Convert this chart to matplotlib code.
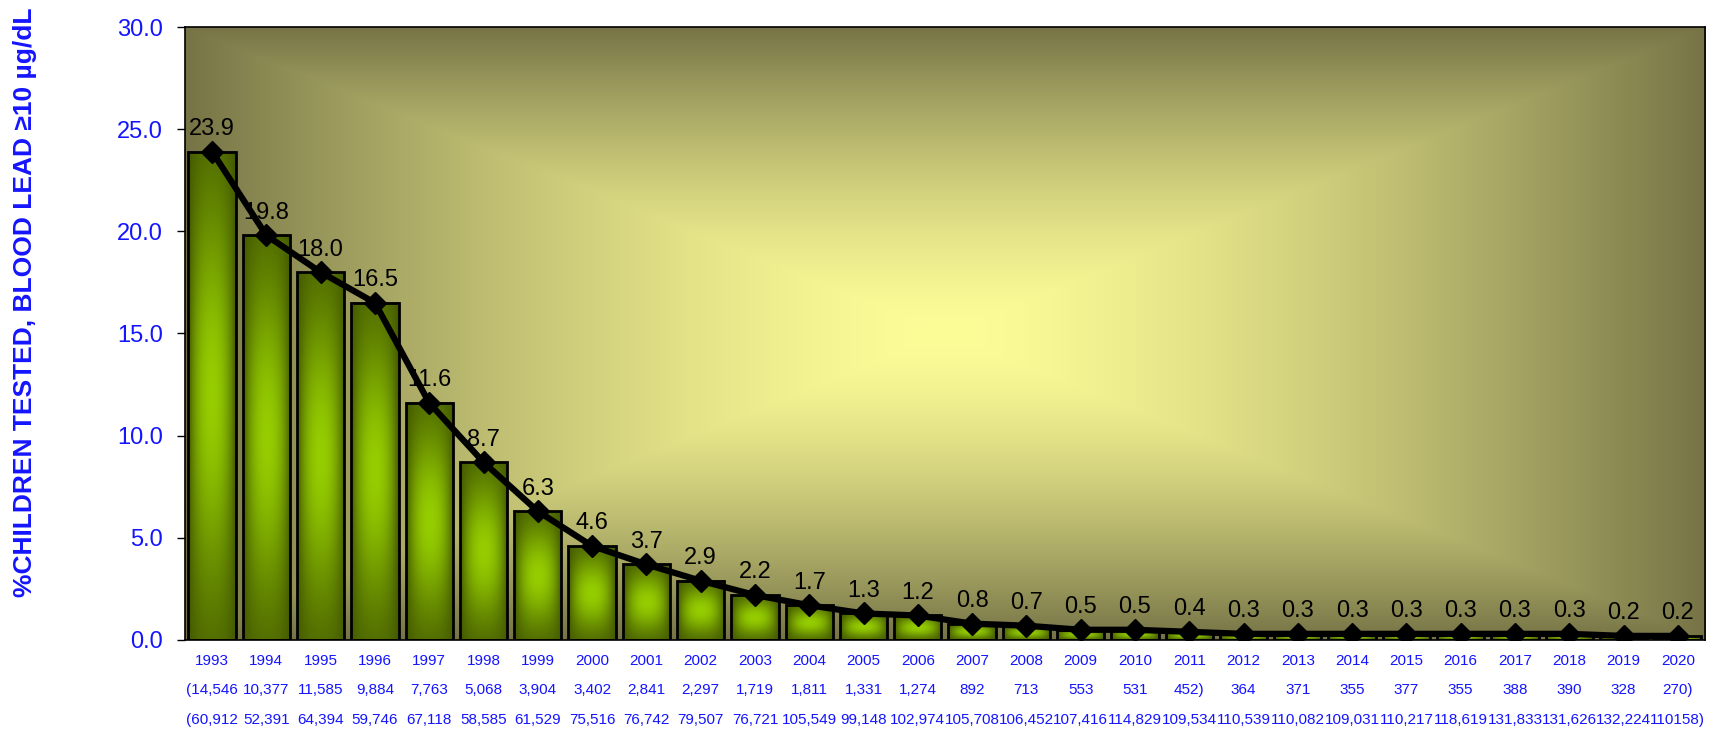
import numpy as np
import matplotlib
matplotlib.use("Agg")
import matplotlib.pyplot as plt
from matplotlib.colors import to_rgb

plt.rcParams['font.family'] = ['Liberation Sans', 'DejaVu Sans']

# data
years = [str(y) for y in range(1993, 2021)]
pct_elevated = [23.9, 19.8, 18.0, 16.5, 11.6, 8.7, 6.3, 4.6, 3.7, 2.9, 2.2, 1.7, 1.3, 1.2,
                0.8, 0.7, 0.5, 0.5, 0.4, 0.3, 0.3, 0.3, 0.3, 0.3, 0.3, 0.3, 0.2, 0.2]
n_elevated = ["(14,546", "10,377", "11,585", "9,884", "7,763", "5,068", "3,904", "3,402",
              "2,841", "2,297", "1,719", "1,811", "1,331", "1,274", "892", "713", "553",
              "531", "452)", "364", "371", "355", "377", "355", "388", "390", "328", "270)"]
n_tested = ["(60,912", "52,391", "64,394", "59,746", "67,118", "58,585", "61,529", "75,516",
            "76,742", "79,507", "76,721", "105,549", "99,148", "102,974", "105,708", "106,452",
            "107,416", "114,829", "109,534", "110,539", "110,082", "109,031", "110,217",
            "118,619", "131,833", "131,626", "132,224", "110158)"]

blue = '#1414ff'

fig = plt.figure(figsize=(17.22, 7.32), dpi=100)
ax = fig.add_axes([0.1074, 0.1257, 0.8827, 0.8374])

x = np.arange(len(years))
ax.set_xlim(-0.5, len(years) - 0.5)
ax.set_ylim(0, 30)

# background: rectangular gradient, light yellow centre -> olive edges
gx, gy = np.meshgrid(np.linspace(-1, 1, 600), np.linspace(-1, 1, 300))
t = np.clip(np.maximum(np.abs(gx), np.abs(gy)), 0, 1) ** 1.5
c_in, c_out = np.array(to_rgb('#fdfd98')), np.array(to_rgb('#767446'))
bg = c_in[None, None, :] * (1 - t[..., None]) + c_out[None, None, :] * t[..., None]
ax.imshow(bg, extent=[0, 1, 0, 1], transform=ax.transAxes, aspect='auto',
          interpolation='bilinear', zorder=0)

# bars with a shaded green fill
w = 0.87
dark, bright = np.array(to_rgb('#435800')), np.array(to_rgb('#95cd00'))
u = np.linspace(0, 1, 60)
v = np.linspace(0, 1, 120)
fu = 1 - np.abs(2 * u - 1) ** 2.2
gv = np.exp(-((v - 0.5) / 0.38) ** 2)
s = (gv[:, None] * fu[None, :]) ** 0.9
bar_img = dark[None, None, :] * (1 - s[..., None]) + bright[None, None, :] * s[..., None]
for xi, h in zip(x, pct_elevated):
    ax.imshow(bar_img, extent=[xi - w / 2, xi + w / 2, 0, h], aspect='auto',
              interpolation='bilinear', zorder=2)
ax.bar(x, pct_elevated, width=w, facecolor='none', edgecolor='black', linewidth=2, zorder=3)
ax.set_xlim(-0.5, len(years) - 0.5)
ax.set_ylim(0, 30)

# trend line
ax.plot(x, pct_elevated, color='black', linewidth=4.5, marker='D', markersize=11, zorder=4)
for xi, val in zip(x, pct_elevated):
    ax.annotate(f"{val:.1f}", (xi, val), xytext=(0, 12), textcoords='offset points',
                ha='center', va='baseline', fontsize=17, color='black', zorder=5)

# axes styling
for sp in ax.spines.values():
    sp.set_color('black')
    sp.set_linewidth(1.2)
    sp.set_zorder(6)
ax.set_yticks(np.arange(0, 30.1, 5))
ax.set_yticklabels([f"{t:.1f}" for t in np.arange(0, 30.1, 5)])
ax.tick_params(axis='y', length=6, width=1, colors='black', labelcolor=blue,
               labelsize=17, pad=10)
ax.set_ylabel("%CHILDREN TESTED, BLOOD LEAD ≥10 µg/dL", color=blue, fontsize=19,
              fontweight='bold')
ax.yaxis.set_label_coords(-0.0974, 0.551)

# three-row category labels
ax.set_xticks(x)
ax.set_xticklabels([])
ax.tick_params(axis='x', length=0)
for row, labels in enumerate([years, n_elevated, n_tested]):
    for xi, lab in zip(x, labels):
        ax.annotate(lab, (xi, 0), xycoords=('data', 'axes fraction'),
                    xytext=(0, -15 - row * 21.3), textcoords='offset points',
                    ha='center', va='center', fontsize=11, color=blue)

fig.savefig("out.png", dpi=100)
